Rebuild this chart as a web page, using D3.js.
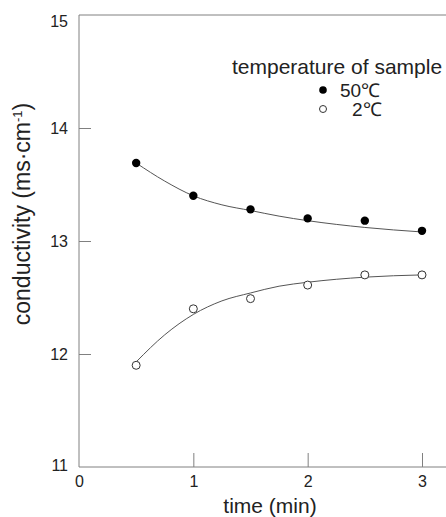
<!DOCTYPE html>
<html><head><meta charset="utf-8">
<script src="https://cdn.jsdelivr.net/npm/d3@7"></script>
<style>body{margin:0;background:#fff}svg{display:block}text{font-family:"Liberation Sans",Arial,sans-serif;fill:#222}</style>
</head><body><svg id="c" width="446" height="517"></svg>
<script>
const times = [0.5, 1, 1.5, 2, 2.5, 3];
const hot50 = [13.69, 13.40, 13.28, 13.20, 13.18, 13.09];
const cold2 = [11.90, 12.40, 12.49, 12.61, 12.70, 12.70];
const fitTimes = [0.5, 0.75, 1, 1.25, 1.5, 1.75, 2, 2.5, 3];
const hotFit = [13.69, 13.53, 13.40, 13.32, 13.27, 13.22, 13.18, 13.12, 13.08];
const coldFit = [11.93, 12.17, 12.35, 12.47, 12.54, 12.60, 12.635, 12.68, 12.70];
const xTicks = [0, 1, 2, 3];
const yTicks = [11, 12, 13, 14, 15];
const legendTitle = "temperature of sample";
const legendLabels = ["50℃", "2℃"];

const svg = d3.select("#c");
const x = d3.scaleLinear().domain([0, 3]).range([79, 422]);
const y = d3.scaleLinear().domain([11, 15]).range([467, 15]);
const axisCol = "#808080";

svg.append("line").attr("x1", 79).attr("x2", 446).attr("y1", 15).attr("y2", 15).attr("stroke", axisCol);
svg.append("line").attr("x1", 79).attr("x2", 446).attr("y1", 467).attr("y2", 467).attr("stroke", axisCol);
svg.append("line").attr("x1", 79).attr("x2", 79).attr("y1", 15).attr("y2", 467).attr("stroke", axisCol);

const ya = svg.append("g").attr("transform", "translate(79,0)")
  .call(d3.axisLeft(y).tickValues(yTicks).tickSize(-12).tickPadding(11).tickFormat(d3.format("d")));
ya.select(".domain").remove();
ya.selectAll(".tick line").attr("stroke", axisCol);
ya.selectAll(".tick").filter(d => d === 15 || d === 11).select("line").remove();
ya.selectAll("text").style("font-size", "16px").attr("fill", "#222");
ya.selectAll(".tick").filter(d => d === 15).select("text").attr("dy", "0.72em");
ya.selectAll(".tick").filter(d => d === 11).select("text").attr("dy", "0.2em");

const xa = svg.append("g").attr("transform", "translate(0,467)")
  .call(d3.axisBottom(x).tickValues(xTicks).tickSize(-14).tickPadding(9).tickFormat(d3.format("d")));
xa.select(".domain").remove();
xa.selectAll(".tick line").attr("stroke", axisCol);
xa.selectAll(".tick").filter(d => d === 0).select("line").remove();
xa.selectAll("text").style("font-size", "16px").attr("fill", "#222");

svg.append("text").attr("x", 270).attr("y", 513).attr("text-anchor", "middle").style("font-size", "21px").text("time (min)");
const yl = svg.append("text").attr("transform", "translate(30,214) rotate(-90)").attr("text-anchor", "middle").style("font-size", "23px");
yl.append("tspan").text("conductivity (ms·cm");
yl.append("tspan").attr("dy", -8).style("font-size", "13px").text("-1");
yl.append("tspan").attr("dy", 8).text(")");

const line = d3.line().x((d, i) => x(fitTimes[i])).y(d => y(d)).curve(d3.curveMonotoneX);
svg.append("path").attr("d", line(hotFit)).attr("fill", "none").attr("stroke", "#555").attr("stroke-width", 1);
svg.append("path").attr("d", line(coldFit)).attr("fill", "none").attr("stroke", "#555").attr("stroke-width", 1);

svg.selectAll(".hot").data(hot50).join("circle").attr("cx", (d, i) => x(times[i])).attr("cy", d => y(d)).attr("r", 4.2).attr("fill", "#000");
svg.selectAll(".cold").data(cold2).join("circle").attr("cx", (d, i) => x(times[i])).attr("cy", d => y(d)).attr("r", 4).attr("fill", "#fff").attr("stroke", "#333").attr("stroke-width", 1);

svg.append("text").attr("x", 232).attr("y", 74).style("font-size", "21px").text(legendTitle);
svg.append("circle").attr("cx", 323).attr("cy", 90).attr("r", 3.8).attr("fill", "#000");
svg.append("circle").attr("cx", 323).attr("cy", 109).attr("r", 3.5).attr("fill", "#fff").attr("stroke", "#333");
svg.append("text").attr("x", 340).attr("y", 97).style("font-size", "19px").text(legendLabels[0]);
svg.append("text").attr("x", 352).attr("y", 116).style("font-size", "19px").text(legendLabels[1]);
</script></body></html>
